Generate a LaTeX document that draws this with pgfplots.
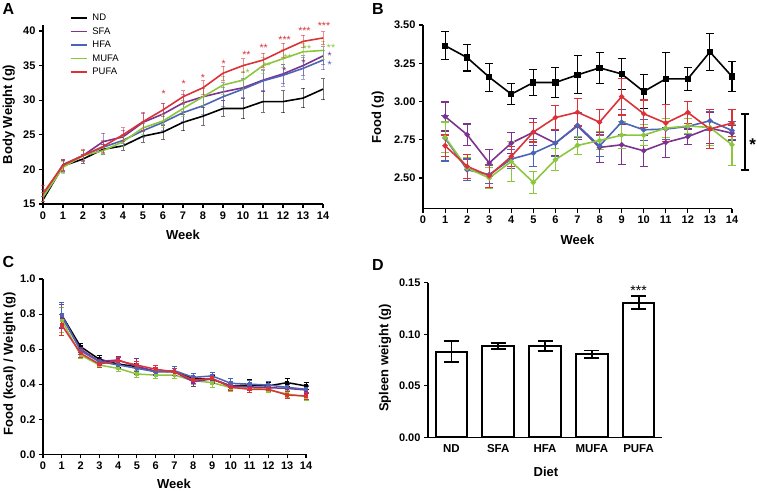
\documentclass[border=0pt]{standalone}
\usepackage{pgfplots}
\pgfplotsset{compat=1.18}
\usepackage{pgfplotstable}
\usepackage{fontspec}
\setmainfont{Liberation Sans}
\definecolor{sfac}{RGB}{125,50,145}
\definecolor{hfac}{RGB}{75,100,180}
\definecolor{mufac}{RGB}{140,198,63}
\definecolor{pufac}{RGB}{220,50,55}

\pgfplotstableread{
w nd ndE sfa sfaE hfa hfaE mufa mufaE pufa pufaE
0 15.6 0.5 16.2 0.9 16.0 0.7 16.0 0.6 16.5 1.2
1 20.5 0.8 20.7 0.8 20.5 0.9 20.3 0.9 20.6 0.8
2 21.5 0.6 22.0 0.7 22.0 0.7 22.0 0.8 22.0 0.9
3 22.9 0.7 24.0 1.2 23.2 0.9 22.7 0.6 23.3 0.9
4 23.4 0.6 24.7 1.0 24.2 0.8 24.0 0.7 25.0 1.0
5 24.8 0.9 26.8 1.3 25.6 1.0 26.0 1.0 26.9 1.4
6 25.4 1.0 28.0 1.5 26.8 1.1 27.0 1.0 28.6 1.0
7 26.8 1.2 29.6 1.2 28.2 1.2 28.8 1.2 30.5 0.9
8 27.7 1.3 30.5 1.2 29.2 1.3 30.5 1.2 31.8 1.0
9 28.8 1.1 31.2 1.3 30.5 1.4 32.2 1.3 33.9 1.0
10 28.8 1.5 31.8 1.4 31.6 1.4 32.9 1.3 35.0 1.0
11 29.8 1.5 32.9 1.5 32.8 1.5 35.0 1.2 35.8 1.0
12 29.8 1.6 33.8 1.4 33.6 1.6 36.0 1.3 37.2 1.0
13 30.3 1.4 35.0 1.4 34.6 1.6 37.0 1.2 38.5 0.9
14 31.6 1.5 36.4 1.3 35.8 1.4 37.2 1.3 39.0 0.9
}\tabA

\pgfplotstableread{
w nd ndE sfa sfaE hfa hfaE mufa mufaE pufa pufaE
1 3.365 0.09 2.902 0.095 2.761 0.15 2.766 0.10 2.711 0.07
2 3.287 0.088 2.783 0.07 2.554 0.07 2.565 0.07 2.576 0.08
3 3.159 0.092 2.598 0.09 2.522 0.06 2.500 0.07 2.515 0.075
4 3.048 0.07 2.728 0.07 2.624 0.06 2.608 0.13 2.641 0.065
5 3.124 0.085 2.800 0.09 2.663 0.09 2.471 0.07 2.800 0.065
6 3.124 0.098 2.728 0.08 2.728 0.09 2.620 0.07 2.895 0.08
7 3.174 0.124 2.841 0.09 2.845 0.08 2.713 0.06 2.930 0.09
8 3.220 0.10 2.700 0.10 2.710 0.07 2.745 0.06 2.865 0.08
9 3.180 0.10 2.717 0.13 2.865 0.08 2.780 0.09 3.032 0.12
10 3.065 0.11 2.678 0.10 2.815 0.07 2.780 0.07 2.920 0.09
11 3.148 0.17 2.732 0.10 2.820 0.07 2.826 0.06 2.859 0.12
12 3.148 0.075 2.770 0.05 2.837 0.05 2.840 0.05 2.928 0.07
13 3.324 0.12 2.826 0.10 2.874 0.06 2.830 0.12 2.820 0.13
14 3.163 0.10 2.793 0.05 2.810 0.06 2.717 0.135 2.859 0.09
}\tabB

\pgfplotstableread{
w nd ndE sfa sfaE hfa hfaE mufa mufaE pufa pufaE
1 0.794 0.07 0.785 0.07 0.794 0.07 0.766 0.07 0.737 0.06
2 0.614 0.02 0.600 0.02 0.590 0.02 0.566 0.02 0.576 0.025
3 0.542 0.02 0.530 0.02 0.528 0.02 0.509 0.015 0.515 0.02
4 0.515 0.02 0.538 0.02 0.510 0.02 0.490 0.015 0.534 0.02
5 0.500 0.02 0.500 0.045 0.490 0.02 0.458 0.02 0.509 0.02
6 0.471 0.02 0.475 0.02 0.471 0.02 0.452 0.02 0.485 0.02
7 0.471 0.02 0.470 0.02 0.477 0.025 0.452 0.02 0.471 0.02
8 0.433 0.03 0.414 0.03 0.439 0.02 0.420 0.02 0.424 0.02
9 0.428 0.02 0.430 0.025 0.447 0.02 0.409 0.03 0.433 0.02
10 0.390 0.02 0.390 0.02 0.405 0.025 0.380 0.02 0.382 0.02
11 0.395 0.03 0.385 0.02 0.400 0.02 0.382 0.02 0.371 0.02
12 0.390 0.02 0.380 0.02 0.395 0.02 0.367 0.015 0.371 0.015
13 0.409 0.025 0.376 0.02 0.382 0.025 0.344 0.02 0.338 0.02
14 0.390 0.02 0.367 0.02 0.371 0.02 0.329 0.02 0.333 0.02
}\tabC

\pgfplotstableread{
x m e
0 0.0831 0.0100
1 0.0889 0.0029
2 0.0889 0.0048
3 0.0805 0.0037
4 0.1306 0.0065
}\tabD

\pgfplotsset{
  gp/.style={
    scale only axis,
    axis lines=left,
    axis line style={line width=1.3pt,-},
    tick align=outside,
    major tick length=4pt,
    tick style={line width=1.1pt,black},
    tick label style={font=\bfseries\fontsize{11}{12}\selectfont},
    label style={font=\bfseries\fontsize{13}{15}\selectfont},
    /pgf/number format/assume math mode=true,
    clip=false,
  },
  ebA/.style={error bars/.cd, y dir=both, y explicit,
    error bar style={line width=0.9pt, opacity=0.55},
    error mark options={rotate=90, mark size=2pt, line width=0.9pt, opacity=0.55}},
  ebB/.style={error bars/.cd, y dir=both, y explicit,
    error bar style={line width=1.1pt},
    error mark options={rotate=90, mark size=4pt, line width=1.1pt}},
  ebC/.style={error bars/.cd, y dir=both, y explicit,
    error bar style={line width=1pt},
    error mark options={rotate=90, mark size=2.5pt, line width=1pt}},
}
\tikzset{starA/.style={font=\fontsize{10.5}{10.5}\selectfont, anchor=base, yshift=-6pt, inner sep=0pt}}

\begin{document}
\begin{tikzpicture}[x=1pt,y=1pt]
\path[use as bounding box] (0pt,0pt) rectangle (757pt,490pt);

% ---------------- Panel A ----------------
\begin{axis}[gp,
  at={(43pt,286pt)}, anchor=south west,
  width=280pt, height=179.2pt,
  xmin=0, xmax=14, ymin=15, ymax=40.9,
  xtick={0,1,...,14}, ytick={15,20,25,30,35,40},
  xlabel={Week}, ylabel={Body Weight (g)},
  xlabel style={at={(axis description cs:0.5,-0.174)}, anchor=center},
  ylabel style={at={(axis description cs:-0.1225,0.5)}, anchor=center},
  legend style={draw=none, fill=none, at={(axis description cs:0.095,1.073)}, anchor=north west,
    font=\fontsize{9.5}{10}\selectfont, row sep=1.5pt, inner sep=0pt},
  legend cell align=left,
  legend image code/.code={\draw[#1] (0pt,0pt) -- (16pt,0pt); \path (19pt,0pt);},
]
\addplot[black, line width=1.6pt, forget plot, ebA] table[x=w,y=nd,y error=ndE]{\tabA};
\addplot[sfac, line width=1.6pt, forget plot, ebA] table[x=w,y=sfa,y error=sfaE]{\tabA};
\addplot[hfac, line width=1.6pt, forget plot, ebA] table[x=w,y=hfa,y error=hfaE]{\tabA};
\addplot[mufac, line width=1.6pt, forget plot, ebA] table[x=w,y=mufa,y error=mufaE]{\tabA};
\addplot[pufac, line width=1.6pt, forget plot, ebA] table[x=w,y=pufa,y error=pufaE]{\tabA};
\addlegendimage{black, line width=1.6pt}\addlegendentry{ND}
\addlegendimage{sfac, line width=1.6pt}\addlegendentry{SFA}
\addlegendimage{hfac, line width=1.6pt}\addlegendentry{HFA}
\addlegendimage{mufac, line width=1.6pt}\addlegendentry{MUFA}
\addlegendimage{pufac, line width=1.6pt}\addlegendentry{PUFA}
% significance marks
\node[starA, pufac] at (axis cs:6.03,31.2) {*};
\node[starA, pufac] at (axis cs:7.03,32.7) {*};
\node[starA, pufac] at (axis cs:8.0,33.6) {*};
\node[starA, pufac] at (axis cs:9.03,35.6) {*};
\node[starA, pufac] at (axis cs:10.17,36.9) {**};
\node[starA, pufac] at (axis cs:11.03,37.9) {**};
\node[starA, pufac] at (axis cs:12.08,39.1) {***};
\node[starA, pufac] at (axis cs:13.07,40.4) {***};
\node[starA, pufac] at (axis cs:14.05,41.1) {***};
\node[starA, mufac] at (axis cs:10.23,34.3) {*};
\node[starA, mufac] at (axis cs:11.2,35.3) {**};
\node[starA, mufac] at (axis cs:12.23,36.5) {**};
\node[starA, mufac] at (axis cs:13.2,37.7) {**};
\node[starA, mufac] at (axis cs:14.4,37.9) {**};
\node[starA, sfac] at (axis cs:12.07,34.6) {*};
\node[starA, sfac] at (axis cs:13.03,35.7) {*};
\node[starA, sfac] at (axis cs:14.33,36.8) {*};
\node[starA, hfac] at (axis cs:14.33,35.5) {*};
\end{axis}

% ---------------- Panel B ----------------
\begin{axis}[gp,
  at={(423pt,281.4pt)}, anchor=south west,
  width=309pt, height=183.6pt,
  xmin=0, xmax=14, ymin=2.3, ymax=3.5,
  xtick={0,1,...,14}, ytick={2.5,2.75,3,3.25,3.5},
  yticklabel style={/pgf/number format/.cd, fixed, fixed zerofill, precision=2},
  xlabel={Week}, ylabel={Food (g)},
  xlabel style={at={(axis description cs:0.5,-0.171)}, anchor=center},
  ylabel style={at={(axis description cs:-0.146,0.496)}, anchor=center},
]
\addplot[black, line width=1.6pt, mark=square*, mark size=2.3pt, mark options={solid}, ebB] table[x=w,y=nd,y error=ndE]{\tabB};
\addplot[sfac, line width=1.6pt, mark=*, mark size=1.8pt, mark options={solid}, ebB] table[x=w,y=sfa,y error=sfaE]{\tabB};
\addplot[hfac, line width=1.6pt, mark=*, mark size=1.8pt, mark options={solid}, ebB] table[x=w,y=hfa,y error=hfaE]{\tabB};
\addplot[mufac, line width=1.6pt, mark=*, mark size=1.8pt, mark options={solid}, ebB] table[x=w,y=mufa,y error=mufaE]{\tabB};
\addplot[pufac, line width=1.6pt, mark=*, mark size=1.8pt, mark options={solid}, ebB] table[x=w,y=pufa,y error=pufaE]{\tabB};
\draw[black, line width=1.6pt] (axis cs:14.40,2.917) -- (axis cs:14.78,2.917);
\draw[black, line width=1.6pt] (axis cs:14.40,2.554) -- (axis cs:14.78,2.554);
\draw[black, line width=1.6pt] (axis cs:14.59,2.917) -- (axis cs:14.59,2.554);
\node[font=\bfseries\fontsize{17}{17}\selectfont, anchor=base, yshift=-10pt, inner sep=0pt] at (axis cs:14.94,2.745) {*};
\end{axis}

% ---------------- Panel C ----------------
\begin{axis}[gp,
  at={(43pt,35.7pt)}, anchor=south west,
  width=263pt, height=175.3pt,
  xmin=0, xmax=14, ymin=0, ymax=1.0,
  xtick={0,1,...,14}, ytick={0,0.2,0.4,0.6,0.8,1.0},
  yticklabel style={/pgf/number format/.cd, fixed, fixed zerofill, precision=1},
  xlabel={Week}, ylabel={Food (kcal) / Weight (g)},
  xlabel style={at={(axis description cs:0.498,-0.169)}, anchor=center},
  ylabel style={at={(axis description cs:-0.127,0.518)}, anchor=center},
]
\addplot[black, line width=1.5pt, mark=square*, mark size=1.2pt, mark options={solid}, ebC] table[x=w,y=nd,y error=ndE]{\tabC};
\addplot[mufac, line width=1.5pt, mark=square*, mark size=1.2pt, mark options={solid}, ebC] table[x=w,y=mufa,y error=mufaE]{\tabC};
\addplot[sfac, line width=1.5pt, mark=square*, mark size=1.2pt, mark options={solid}, ebC] table[x=w,y=sfa,y error=sfaE]{\tabC};
\addplot[hfac, line width=1.5pt, mark=square*, mark size=1.2pt, mark options={solid}, ebC] table[x=w,y=hfa,y error=hfaE]{\tabC};
\addplot[pufac, line width=1.5pt, mark=square*, mark size=1.2pt, mark options={solid}, ebC] table[x=w,y=pufa,y error=pufaE]{\tabC};
\end{axis}

% ---------------- Panel D ----------------
\begin{axis}[gp,
  at={(428pt,52.7pt)}, anchor=south west,
  width=234pt, height=154.6pt,
  xmin=-0.5, xmax=4.5, ymin=0, ymax=0.15,
  xtick={0,1,2,3,4}, xticklabels={ND,SFA,HFA,MUFA,PUFA},
  x tick style={draw=none},
  xticklabel style={font=\bfseries\fontsize{11.5}{12}\selectfont},
  ytick={0,0.05,0.1,0.15},
  yticklabel style={/pgf/number format/.cd, fixed, fixed zerofill, precision=2},
  xlabel={Diet}, ylabel={Spleen weight (g)},
  xlabel style={at={(axis description cs:0.504,-0.2225)}, anchor=center},
  ylabel style={at={(axis description cs:-0.184,0.513)}, anchor=center},
]
\addplot[ybar, bar width=31.5pt, fill=white, draw=black, line width=2pt,
  error bars/.cd, y dir=both, y explicit,
  error bar style={line width=1.8pt, black},
  error mark options={rotate=90, mark size=7.5pt, line width=1.8pt, black}]
  table[x=x,y=m,y error=e]{\tabD};
\node[font=\fontsize{14}{14}\selectfont, anchor=base, yshift=-8pt, inner sep=0pt] at (axis cs:4,0.1458) {***};
\end{axis}

% panel letters
\node[font=\bfseries\fontsize{16}{16}\selectfont, inner sep=0pt] at (8.3pt,481.2pt) {A};
\node[font=\bfseries\fontsize{16}{16}\selectfont, inner sep=0pt] at (378pt,480.8pt) {B};
\node[font=\bfseries\fontsize{16}{16}\selectfont, inner sep=0pt] at (8.3pt,228.5pt) {C};
\node[font=\bfseries\fontsize{16}{16}\selectfont, inner sep=0pt] at (378pt,225.5pt) {D};
\end{tikzpicture}
\end{document}
